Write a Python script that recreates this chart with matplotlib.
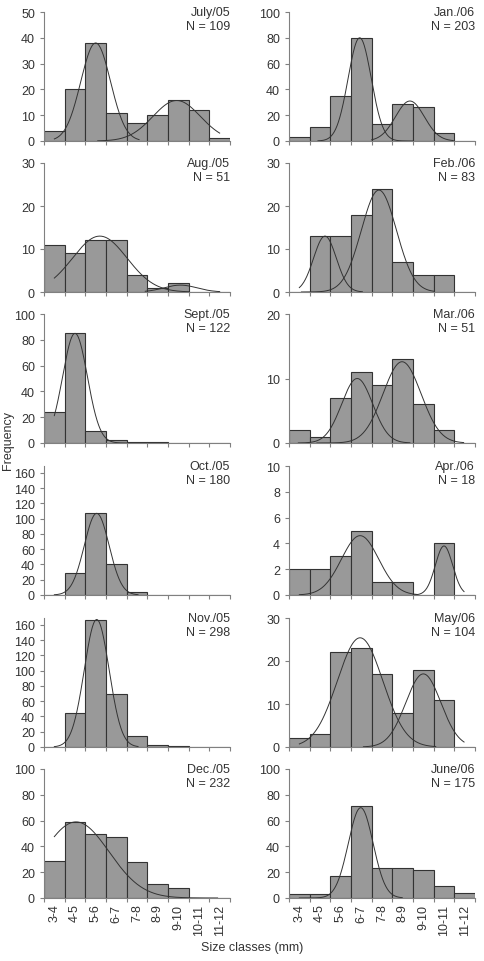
import matplotlib
matplotlib.use('Agg')
import matplotlib.pyplot as plt
import numpy as np

size_classes = ['3-4', '4-5', '5-6', '6-7', '7-8', '8-9', '9-10', '10-11', '11-12']

# left column (2005)
jul05 = [4, 20, 38, 11, 7, 10, 16, 12, 1]
aug05 = [11, 9, 12, 12, 4, 1, 2, 0, 0]
sep05 = [24, 85, 9, 2, 1, 1, 0, 0, 0]
oct05 = [0, 29, 107, 40, 4, 0, 0, 0, 0]
nov05 = [0, 45, 167, 69, 14, 2, 1, 0, 0]
dec05 = [29, 59, 50, 47, 28, 11, 8, 0, 0]

# right column (2006)
jan06 = [3, 11, 35, 80, 13, 29, 26, 6, 0]
feb06 = [0, 13, 13, 18, 24, 7, 4, 4, 0]
mar06 = [2, 1, 7, 11, 9, 13, 6, 2, 0]
apr06 = [2, 2, 3, 5, 1, 1, 0, 4, 0]
may06 = [2, 3, 22, 23, 17, 8, 18, 11, 0]
jun06 = [3, 3, 17, 71, 23, 23, 22, 9, 4]

labels = ['July/05\nN = 109', 'Aug./05\nN = 51', 'Sept./05\nN = 122',
          'Oct./05\nN = 180', 'Nov./05\nN = 298', 'Dec./05\nN = 232',
          'Jan./06\nN = 203', 'Feb./06\nN = 83', 'Mar./06\nN = 51',
          'Apr./06\nN = 18', 'May/06\nN = 104', 'June/06\nN = 175']

# fitted normal components: (peak, mean, sd, start, end), in class units
jul05_fit = [(38, 2.5, 0.72, 0.5, 4.6), (15.7, 6.42, 1.15, 2.6, 8.5)]
aug05_fit = [(13, 2.7, 1.32, 0.5, 7.0), (1.6, 6.6, 0.8, 4.9, 8.5)]
sep05_fit = [(85, 1.5, 0.6, 0.5, 4.0)]
oct05_fit = [(107, 2.55, 0.6, 0.5, 4.55)]
nov05_fit = [(167, 2.55, 0.6, 0.5, 4.55)]
dec05_fit = [(59, 1.55, 1.6, 0.5, 8.4)]
jan06_fit = [(80, 3.42, 0.56, 1.4, 6.0), (31, 5.85, 0.7, 4.0, 7.95)]
feb06_fit = [(13, 1.74, 0.55, 0.5, 3.55), (23.7, 4.35, 0.85, 0.6, 7.0)]
mar06_fit = [(10, 3.3, 0.75, 0.45, 5.85), (12.6, 5.47, 0.92, 1.35, 8.45)]
apr06_fit = [(4.6, 3.44, 0.9, 0.5, 6.2), (3.8, 7.5, 0.42, 6.0, 8.47)]
may06_fit = [(25.4, 3.44, 1.1, 0.5, 7.1), (17, 6.5, 0.85, 3.6, 8.47)]
jun06_fit = [(70, 3.47, 0.6, 0.5, 5.48)]

left_data = [jul05, aug05, sep05, oct05, nov05, dec05]
right_data = [jan06, feb06, mar06, apr06, may06, jun06]
left_fits = [jul05_fit, aug05_fit, sep05_fit, oct05_fit, nov05_fit, dec05_fit]
right_fits = [jan06_fit, feb06_fit, mar06_fit, apr06_fit, may06_fit, jun06_fit]

left_ylims = [(50, 10), (30, 10), (100, 20), (169, 20), (169, 20), (100, 20)]
right_ylims = [(100, 20), (30, 10), (20, 10), (10, 2), (30, 10), (100, 20)]

plt.rcParams['font.family'] = ['Liberation Sans', 'DejaVu Sans']

W, H = 485, 962
row_bottoms = [142, 293, 444, 596, 748, 899]
ax_h = 129
col_lefts = [44, 289]
ax_w = 186

text_col = '#333333'
spine_col = '#808080'


def draw_panel(ax, counts, fits, ylim, label, bottom_row):
    pos = np.arange(len(counts))
    ax.bar(pos, counts, width=1.0, align='edge', color='#999999',
           edgecolor='#333333', linewidth=0.8, zorder=2)
    for peak, mu, sd, x0, x1 in fits:
        x = np.linspace(x0, x1, 200)
        y = peak * np.exp(-0.5 * ((x - mu) / sd) ** 2)
        ax.plot(x, y, color='#333333', linewidth=0.7, zorder=3)
    ax.set_xlim(0, 9)
    ax.set_ylim(0, ylim[0])
    top = ylim[0] if ylim[0] % ylim[1] == 0 else ylim[0] - ylim[0] % ylim[1]
    ax.set_yticks(np.arange(0, top + 0.1, ylim[1]))
    ax.set_xticks(np.arange(0, 10))
    ax.set_xticklabels([])
    ax.set_xticks(pos + 0.5, minor=True)
    if bottom_row:
        ax.set_xticklabels(size_classes, minor=True, rotation=90)
    else:
        ax.set_xticklabels([], minor=True)
    ax.tick_params(axis='x', which='minor', length=0, pad=4,
                   labelsize=9, labelcolor=text_col)
    ax.tick_params(axis='both', which='major', direction='out', length=3,
                   width=0.8, color=spine_col, labelsize=9, labelcolor=text_col)
    for s in ['top', 'right']:
        ax.spines[s].set_visible(False)
    for s in ['left', 'bottom']:
        ax.spines[s].set_color(spine_col)
        ax.spines[s].set_linewidth(0.8)
    ax.text(1.0, 1.045, label, transform=ax.transAxes, ha='right', va='top',
            fontsize=9, color=text_col, linespacing=1.25)


def main():
    fig = plt.figure(figsize=(W / 100, H / 100), dpi=100)
    for c, (datas, fits, ylims) in enumerate([(left_data, left_fits, left_ylims),
                                               (right_data, right_fits, right_ylims)]):
        for r in range(6):
            rect = [col_lefts[c] / W, 1 - row_bottoms[r] / H, ax_w / W, ax_h / H]
            ax = fig.add_axes(rect)
            draw_panel(ax, datas[r], fits[r], ylims[r], labels[c * 6 + r], r == 5)

    fig.text(8 / W, 1 - 440 / H, 'Frequency', rotation=90, ha='center', va='center',
             fontsize=9, color=text_col)
    fig.text(252 / W, 1 - 948 / H, 'Size classes (mm)', ha='center', va='center',
             fontsize=9, color=text_col)
    fig.savefig('out.png', dpi=100, facecolor='white')


if __name__ == '__main__':
    main()
